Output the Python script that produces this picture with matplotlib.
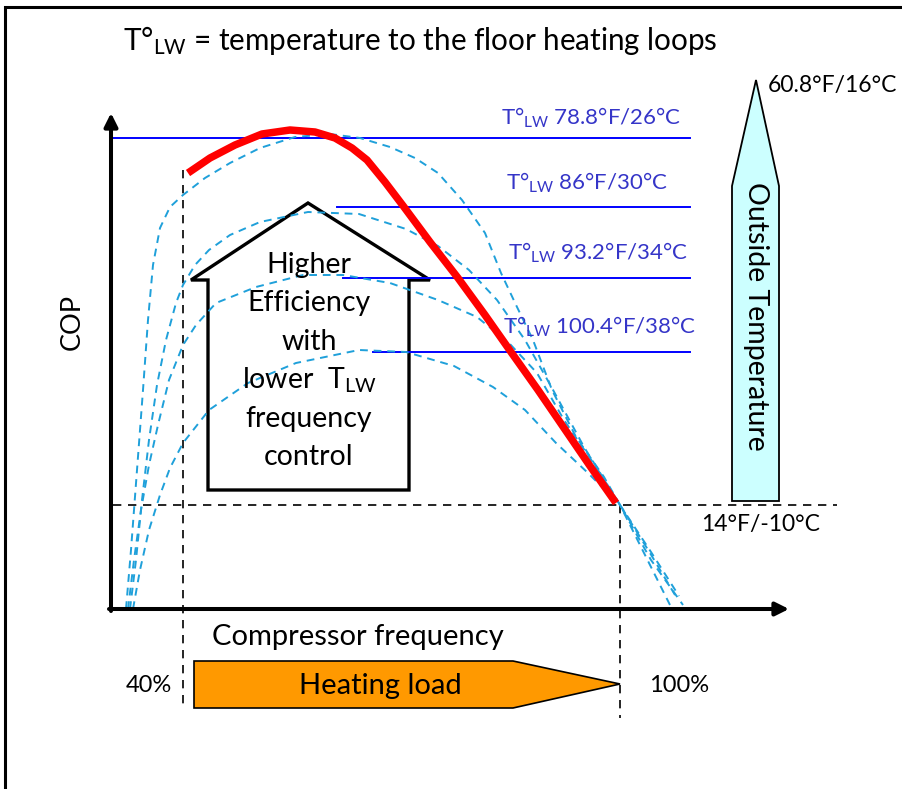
import matplotlib
matplotlib.use("Agg")
import matplotlib.pyplot as plt
from matplotlib.patches import Polygon

plt.rcParams['font.family'] = ['Lato', 'DejaVu Sans']
plt.rcParams['mathtext.fontset'] = 'custom'
plt.rcParams['mathtext.rm'] = 'Lato'
plt.rcParams['mathtext.it'] = 'Lato'

# ---------------- data (schematic; pixel-space units) ----------------
red_x = [188, 210, 235, 262, 290, 315, 335, 352, 367, 385, 404, 430, 458, 485, 511, 538, 564, 590, 616]
red_y = [173, 158, 145, 134, 130, 132, 138, 148, 160, 182, 207, 242, 278, 315, 352, 390, 428, 466, 503]

lw26_x = [126, 131, 137, 143, 148, 153, 160, 170, 183, 205, 230, 260, 295, 330, 360, 390, 415, 438, 462, 485, 501, 517, 533, 552, 576, 604, 620, 651, 683]
lw26_y = [609, 550, 470, 390, 320, 265, 228, 207, 195, 178, 163, 148, 137, 134, 138, 147, 158, 173, 200, 233, 273, 307, 340, 390, 437, 477, 505, 560, 605]

lw30_x = [130, 136, 142, 149, 157, 166, 176, 183, 195, 209, 230, 260, 308, 359, 406, 438, 469, 497, 525, 552, 584, 620, 650, 678]
lw30_y = [609, 560, 500, 440, 385, 340, 303, 285, 265, 250, 235, 222, 212, 214, 229, 246, 270, 300, 340, 388, 447, 505, 553, 600]

lw34_x = [128, 134, 141, 149, 158, 169, 183, 196, 216, 256, 303, 343, 390, 438, 477, 509, 537, 564, 596, 620, 645, 671]
lw34_y = [609, 560, 510, 465, 425, 380, 345, 325, 303, 287, 275, 275, 283, 300, 317, 343, 373, 420, 467, 505, 555, 607]

lw38_x = [133, 140, 149, 160, 170, 183, 209, 248, 296, 359, 406, 454, 493, 525, 556, 588, 620, 651, 679]
lw38_y = [609, 570, 530, 495, 468, 443, 410, 383, 363, 350, 352, 366, 387, 410, 443, 473, 505, 552, 596]

lw_labels = ["78.8°F/26°C", "86°F/30°C", "93.2°F/34°C", "100.4°F/38°C"]
lw_line_y = [138, 207, 278, 352]
lw_line_x0 = [111, 337, 343, 373]

arrow_text = ["Higher", "Efficiency", "with", r"lower  T$_{\mathrm{LW}}$", "frequency", "control"]

# ---------------- figure ----------------
fig = plt.figure(figsize=(9.02, 7.89), dpi=100)
ax = fig.add_axes([0, 0, 1, 1])
ax.set_xlim(0, 902)
ax.set_ylim(789, 0)
ax.axis('off')

# frame
ax.plot([5, 5, 902], [789, 7, 7], color='black', lw=2.2, solid_joinstyle='miter')

# title
ax.text(123, 40, r"T°$_{\mathrm{LW}}$ = temperature to the floor heating loops",
        fontsize=21.3, ha='left', va='center')

# axes arrows
arrow_kw = dict(arrowstyle='-|>', color='black', lw=2.9, mutation_scale=20,
                shrinkA=0, shrinkB=0)
ax.annotate('', xy=(111, 113), xytext=(111, 611), arrowprops=arrow_kw)
ax.annotate('', xy=(789, 609), xytext=(109, 609), arrowprops=arrow_kw)
ax.text(72, 322, "COP", rotation=90, fontsize=19.5, ha='center', va='center')

# reference dashed lines
dash_kw = dict(color='black', lw=1.2, linestyle=(0, (5, 4)))
ax.plot([113, 837], [505, 505], **dash_kw)
ax.plot([183, 183], [170, 710], **dash_kw)
ax.plot([620, 620], [505, 718], **dash_kw)

# blue leaving-water lines + labels
for lab, ly, lx0 in zip(lw_labels, lw_line_y, lw_line_x0):
    ax.plot([lx0, 690], [ly, ly], color='#0000FF', lw=1.4)
label_y = [118, 183, 253, 327]
label_x = [501, 506, 508, 503]
for lab, ty, tx in zip(lw_labels, label_y, label_x):
    ax.text(tx, ty, r"T°$_{\mathrm{LW}}$ " + lab, color='#3535C8', fontsize=16,
            ha='left', va='center')

# dashed COP curves
cyan = '#1FA0DA'
for cx, cy in [(lw26_x, lw26_y), (lw30_x, lw30_y), (lw34_x, lw34_y), (lw38_x, lw38_y)]:
    ax.plot(cx, cy, color=cyan, lw=1.4, linestyle=(0, (4, 3)))

# red optimal curve
ax.plot(red_x, red_y, color='#FF0000', lw=5.4, solid_capstyle='butt', solid_joinstyle='round')

# big "higher efficiency" arrow outline
house = Polygon([(208, 490), (208, 280), (191, 280), (308, 203), (430, 280), (409, 280), (409, 490)],
                closed=True, fill=False, edgecolor='black', lw=2.4, joinstyle='miter')
ax.add_patch(house)
for i, t in enumerate(arrow_text):
    ax.text(309, 265 + i * 38.4, t, fontsize=20.5, ha='center', va='center')

# outside temperature arrow
otemp = Polygon([(732, 501), (732, 186), (756, 80), (779, 186), (779, 501)], closed=True,
                facecolor='#CCFFFF', edgecolor='black', lw=1.3)
ax.add_patch(otemp)
ax.text(756, 316, "Outside Temperature", rotation=-90, fontsize=20.5, ha='center', va='center')
ax.text(768, 85, "60.8°F/16°C", fontsize=16.5, ha='left', va='center')
ax.text(761, 524, "14°F/-10°C", fontsize=16.5, ha='center', va='center')

# heating load arrow
load = Polygon([(194, 661), (513, 661), (620, 684), (513, 708), (194, 708)], closed=True,
               facecolor='#FF9900', edgecolor='black', lw=1.2)
ax.add_patch(load)
ax.text(380, 686, "Heating load", fontsize=21, ha='center', va='center')
ax.text(358, 637, "Compressor frequency", fontsize=21, ha='center', va='center')
ax.text(149, 686, "40%", fontsize=17, ha='center', va='center')
ax.text(679, 686, "100%", fontsize=17, ha='center', va='center')

fig.savefig("out.png", dpi=100)
